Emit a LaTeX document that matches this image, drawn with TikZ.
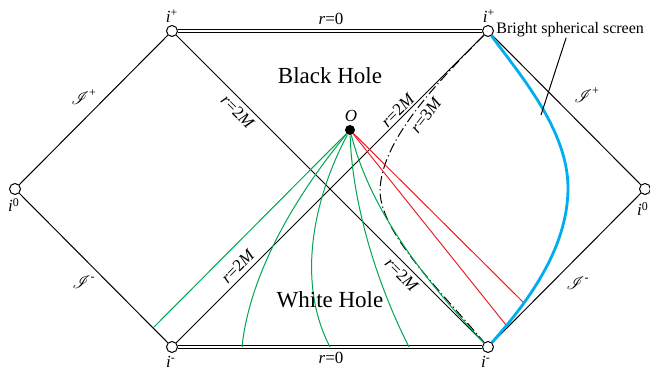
\documentclass[tikz,border=0pt]{standalone}
\usepackage{fontspec}
\setmainfont{Liberation Serif}
\usepackage{mathrsfs}
\usepackage{xcolor}
\definecolor{ray-green}{HTML}{00A651}
\definecolor{ray-red}{HTML}{ED1C24}
\definecolor{screen-blue}{HTML}{00AEEF}

\begin{document}
\begin{tikzpicture}[x=0.5pt, y=-0.5pt,
      every node/.style={font=\fontsize{8.5}{10}\selectfont, inner sep=0pt},
      endpt/.style={circle, draw, fill=white, minimum size=5.5pt, line width=0.5pt},
      event/.style={circle, fill=black, minimum size=5pt},
      hole/.style={font=\fontsize{11.5}{13}\selectfont},
      scri/.style={font=\fontsize{9}{10}\selectfont},
      sing/.style={double, double distance=1pt, line width=0.5pt},
      edge/.style={line width=0.5pt},
      ray/.style={line width=0.5pt}]
    \useasboundingbox (0,0) rectangle (650,373);
    \node[endpt] (ipL) at (172,31) {};
    \node[endpt] (ipR) at (488,31) {};
    \node[endpt] (i0L) at (15,189) {};
    \node[endpt] (i0R) at (645,189) {};
    \node[endpt] (imL) at (172,347) {};
    \node[endpt] (imR) at (488,347) {};
    \node[event] (O) at (350,130) {};
    \coordinate (gs) at (153,328);
    \coordinate (rA) at (524,303);
    \coordinate (rB) at (506,325);
    \coordinate (scr) at (541,115);
    \draw[edge] (i0L) -- (ipL);
    \draw[edge] (i0L) -- (imL);
    \draw[edge] (ipR) -- (i0R);
    \draw[edge] (imR) -- (i0R);
    \draw[edge] (ipL) -- (imR);
    \draw[edge] (imL) -- (ipR);
    \draw[sing] (ipL) -- (ipR);
    \draw[sing] (imL) -- (imR);
    \draw[edge, dash pattern=on 5pt off 1.6pt on 0.6pt off 1.6pt]
          (ipR) .. controls (440,80) and (380,140) .. (380,192)
          .. controls (382,235) and (440,290) .. (imR);
    \draw[ray, ray-green] (O) -- (gs);
    \draw[ray, ray-green] (O) .. controls (300,190) and (250,270) .. (242,347);
    \draw[ray, ray-green] (O) .. controls (315,195) and (295,280) .. (330,347);
    \draw[ray, ray-green] (O) .. controls (352,200) and (375,280) .. (409,347);
    \draw[ray, ray-green] (O) .. controls (368,200) and (410,265) .. (imR);
    \draw[ray, ray-red] (O) -- (rA);
    \draw[ray, ray-red] (O) -- (rB);
    \draw[line width=1.4pt, screen-blue]
          (ipR) .. controls (520,75) and (568,130) .. (568,188)
          .. controls (568,250) and (525,305) .. (imR);
    \node[anchor=west, font=\fontsize{8}{10}\selectfont] (bss) at (496,30) {Bright spherical screen};
    \draw[edge] ([xshift=-2pt]bss.south) -- (scr);
    \node (tipL) at (172,16) {\textit{i}\textsuperscript{+}};
    \node (tipR) at (489,16) {\textit{i}\textsuperscript{+}};
    \node (ti0L) at (14,205) {\textit{i}\textsuperscript{0}};
    \node (ti0R) at (643,209) {\textit{i}\textsuperscript{0}};
    \node (timL) at (171,362) {\textit{i}\textsuperscript{-}};
    \node (timR) at (486,362) {\textit{i}\textsuperscript{-}};
    \node (tO) at (351,116) {\textit{O}};
    \node (rtop) at (331,19) {\textit{r}=0};
    \node (rbot) at (331,358) {\textit{r}=0};
    \node[hole] (bh) at (330,76) {Black Hole};
    \node[hole] (wh) at (330,300) {White Hole};
    \node[scri] (sUL) at (84,97) {$\mathscr{I}$\textsuperscript{+}};
    \node[scri] (sLL) at (84,282) {$\mathscr{I}$\textsuperscript{-}};
    \node[scri] (sUR) at (587,95) {$\mathscr{I}$\textsuperscript{+}};
    \node[scri] (sLR) at (578,283) {$\mathscr{I}$\textsuperscript{-}};
    \node[rotate=-45] (hUL) at (238,112) {\textit{r}=2\textit{M}};
    \node[rotate=45] (hUR) at (398,110) {\textit{r}=2\textit{M}};
    \node[rotate=45] (hLL) at (238,266) {\textit{r}=2\textit{M}};
    \node[rotate=-45] (hLR) at (402,275) {\textit{r}=2\textit{M}};
    \node[rotate=52] (pr) at (426,115) {\textit{r}=3\textit{M}};
  \end{tikzpicture}
\end{document}
